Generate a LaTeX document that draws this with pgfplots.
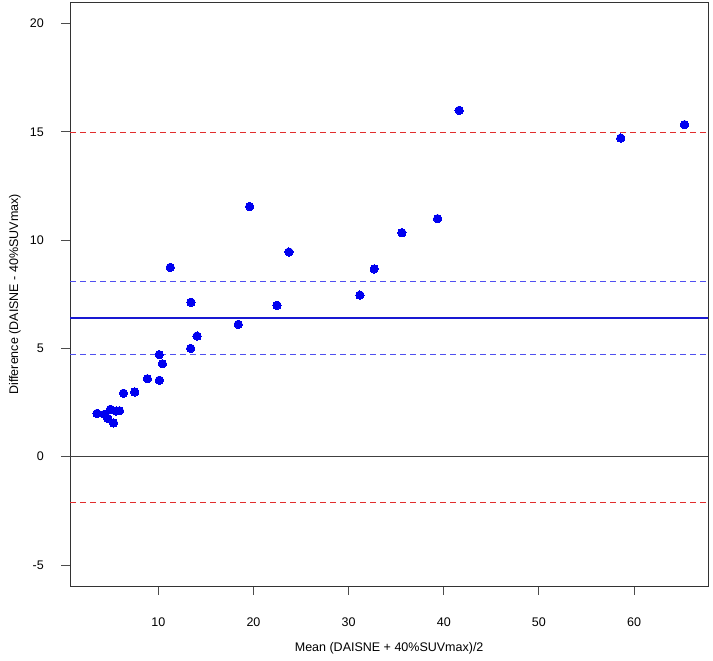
\documentclass[border=0pt]{standalone}
\usepackage{fontspec}
\setmainfont{Liberation Sans}
\usepackage{pgfplots}
\pgfplotsset{compat=1.18}
\definecolor{ptblue}{RGB}{0,0,240}
\definecolor{meanblue}{RGB}{25,25,210}
\definecolor{cidash}{RGB}{80,80,240}
\definecolor{loared}{RGB}{225,45,45}
\begin{document}
\begin{tikzpicture}[x=1pt,y=1pt]
\useasboundingbox (0,0) rectangle (713,661);
\begin{axis}[
  at={(70pt,75pt)}, anchor=south west,
  scale only axis, width=638.3pt, height=583.3pt,
  xmin=0.72, xmax=67.8, ymin=-5.97, ymax=20.96,
  xtick={10,20,30,40,50,60}, ytick={-5,0,5,10,15,20},
  xticklabels={10,20,30,40,50,60},
  yticklabels={-5,0,5,10,15,20},
  tick align=outside, major tick length=9pt,
  xtick pos=bottom, ytick pos=left,
  axis line style={black!80, line width=0.9pt},
  tick style={black!70, line width=0.9pt},
  ticklabel style={font=\fontsize{12.5}{14}\selectfont, inner sep=0pt},
  xticklabel style={anchor=center, yshift=-27pt},
  yticklabel style={anchor=east, xshift=-17pt},
  xlabel={Mean (DAISNE + 40\%SUVmax)/2},
  ylabel={Difference (DAISNE - 40\%SUVmax)},
  label style={font=\fontsize{12.5}{14}\selectfont},
  xlabel style={at={(axis description cs:0.5,-0.1063)}, anchor=center},
  ylabel style={at={(axis description cs:-0.0862,0.5)}, anchor=center, rotate=0},
  clip=true,
]
% zero line
\addplot[color=black!75, mark=none, line width=0.9pt] coordinates {(0.72,0) (67.8,0)};
% limits of agreement
\addplot[color=loared, mark=none, line width=0.9pt, dash pattern=on 6pt off 4pt] coordinates {(0.72,14.98) (67.8,14.98)};
\addplot[color=loared, mark=none, line width=0.9pt, dash pattern=on 6pt off 4pt] coordinates {(0.72,-2.12) (67.8,-2.12)};
% CI of mean difference
\addplot[color=cidash, mark=none, line width=1pt, dash pattern=on 6pt off 4pt] coordinates {(0.72,8.09) (67.8,8.09)};
\addplot[color=cidash, mark=none, line width=1pt, dash pattern=on 6pt off 4pt] coordinates {(0.72,4.71) (67.8,4.71)};
% mean difference
\addplot[color=meanblue, mark=none, line width=2pt] coordinates {(0.72,6.42) (67.8,6.42)};
% data points
\addplot[only marks, mark=*, mark size=4.2pt, mark options={fill=ptblue, draw=ptblue, line width=0pt}] coordinates {
(3.56,2.00) (4.37,1.96) (4.97,2.19) (4.69,1.77) (5.29,1.56) (5.57,2.11)
(5.92,2.12) (6.34,2.93) (7.52,2.99) (8.85,3.60) (10.11,3.53) (10.43,4.29)
(10.10,4.71) (11.26,8.74) (13.43,7.13) (13.40,5.00) (14.07,5.57) (18.40,6.11)
(19.60,11.55) (22.47,6.99) (23.73,9.45) (31.19,7.46) (32.69,8.67) (35.60,10.34)
(39.35,10.99) (41.62,15.99) (58.60,14.71) (65.30,15.33)
};
\end{axis}
\end{tikzpicture}
\end{document}
